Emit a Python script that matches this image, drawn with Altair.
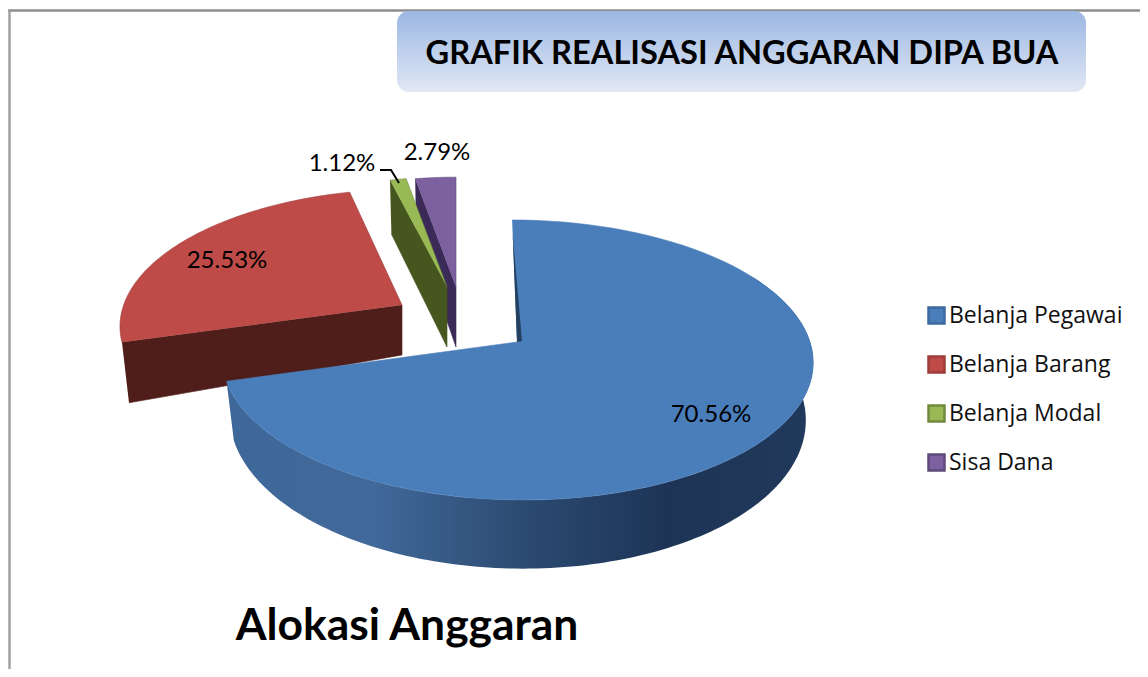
import math
import altair as alt
import pandas as pd

categories = ["Belanja Pegawai", "Belanja Barang", "Belanja Modal", "Sisa Dana"]
shares = [70.56, 25.53, 1.12, 2.79]
face_colors = ["#4a7ebb", "#be4b48", "#98b954", "#7d60a0"]
edge_colors = ["#3d6aa0", "#9d3d3a", "#71893f", "#5f4a7c"]
wall_colors = ["#2c4a70", "#4f1e1a", "#46561f", "#3b2a57"]

W, H = 1132, 661
xs = alt.Scale(domain=[8, 8 + W], range=[0, W], nice=False, zero=False)
ys = alt.Scale(domain=[8, 8 + H], range=[0, H], nice=False, zero=False)
XE = alt.X("x:Q", scale=xs, axis=None)
YE = alt.Y("y:Q", scale=ys, axis=None)

# 3-D pie view: slice angles come from the shares, drawn under a tilted-disc projection
A, B, K = 293.0, 137.7, 0.1285
# apex x, apex y, disc scale, skew, depth at apex, depth growth
view = [
    (517, 342, 1.00, 0.04, 56, 0.08),
    (402, 305, 0.95, -0.07, 50, 0.28),
    (447, 287, 0.90, 0.0, 60, 0.057),
    (456, 287, 0.90, 0.0, 60, 0.057),
]
edges = [0.0]
for s in shares:
    edges.append(edges[-1] + s * 360.0 / sum(shares))


def outer(i, deg):
    ax, ay, s, skew, _, _ = view[i]
    t = math.radians(deg)
    den = 1 + K * math.cos(t)
    dx = s * A * math.sin(t) / den
    dy = -s * B * math.cos(t) / den
    return (ax + dx + skew * dy, ay + dy)


def lower(i, p):
    ax, ay, _, _, d0, d1 = view[i]
    return (ax + (p[0] - ax) * 0.975, p[1] + d0 + d1 * (p[1] - ay))


def arc_pts(i, a, b, n=90):
    return [outer(i, a + (b - a) * j / n) for j in range(n + 1)]


def poly(points, fill, stroke=None, sw=0.6):
    df = pd.DataFrame(
        {"x": [p[0] for p in points], "y": [p[1] for p in points], "i": range(len(points))}
    )
    return (
        alt.Chart(df)
        .mark_line(fill=fill, stroke=stroke or "transparent", strokeWidth=sw, interpolate="linear")
        .encode(x=XE, y=YE, order=alt.Order("i:Q"))
    )


def face(i):
    a, b = edges[i], edges[i + 1]
    apex = (view[i][0], view[i][1])
    outline = face_colors[i] if i == 0 else edge_colors[i]
    return poly(arc_pts(i, a, b) + [apex], face_colors[i], outline)


def cut_wall(i, deg):
    apex = (view[i][0], view[i][1])
    p = outer(i, deg)
    return poly([p, apex, lower(i, apex), lower(i, p)], wall_colors[i], wall_colors[i])


# frame and title panel
frame_h = alt.Chart(pd.DataFrame({"x": [8], "x2": [1140], "y": [10.5]})).mark_rule(
    color="#8e8e8e", strokeWidth=2.5
).encode(x=XE, x2="x2:Q", y=YE)
frame_v = alt.Chart(pd.DataFrame({"x": [9.5], "y": [10], "y2": [669]})).mark_rule(
    color="#a0a0a0", strokeWidth=2.5
).encode(x=XE, y=YE, y2="y2:Q")
panel = alt.Chart(pd.DataFrame({"x": [397], "x2": [1086], "y": [11], "y2": [92]})).mark_rect(
    cornerRadius=12,
    fill=alt.LinearGradient(
        gradient="linear", x1=0, y1=0, x2=0, y2=1,
        stops=[
            alt.GradientStop(offset=0, color="#9bb7e2"),
            alt.GradientStop(offset=1, color="#e2e8f5"),
        ],
    ),
).encode(x=XE, x2="x2:Q", y=YE, y2="y2:Q")

# blue outer wall
top_arc = arc_pts(0, 60, edges[1], 160)
blue_wall = poly(
    top_arc + [lower(0, p) for p in reversed(top_arc)],
    alt.LinearGradient(
        gradient="linear", x1=0, y1=0, x2=1, y2=0,
        stops=[
            alt.GradientStop(offset=0, color="#3f689a"),
            alt.GradientStop(offset=0.25, color="#41699a"),
            alt.GradientStop(offset=0.5, color="#2c4b72"),
            alt.GradientStop(offset=0.75, color="#1d3456"),
            alt.GradientStop(offset=1, color="#21395c"),
        ],
    ),
)
apex0 = (view[0][0], view[0][1])
top0 = outer(0, 0)
inner_strip = poly(
    [
        (top0[0] + (apex0[0] - top0[0]) * 0.12, top0[1] + (apex0[1] - top0[1]) * 0.12),
        (apex0[0] + 5, apex0[1] - 1),
        (apex0[0], apex0[1]),
    ],
    "#24405f",
)

# labels
labels = pd.DataFrame(
    {
        "x": [711, 227, 342, 437],
        "y": [415, 261, 164, 153],
        "t": [f"{v:.2f}%" for v in shares],
    }
)
value_text = alt.Chart(labels).mark_text(font="Lato", fontSize=24, color="#000000").encode(
    x=XE, y=YE, text="t:N"
)
leader = alt.Chart(
    pd.DataFrame({"x": [380, 391, 399], "y": [170, 170, 183], "i": [0, 1, 2]})
).mark_line(color="#000000", strokeWidth=2).encode(x=XE, y=YE, order=alt.Order("i:Q"))
title_text = alt.Chart(pd.DataFrame({"x": [742], "y": [54], "t": ["GRAFIK REALISASI ANGGARAN DIPA BUA"]})).mark_text(
    font="Lato", fontSize=32.6, fontWeight="bold", color="#000000"
).encode(x=XE, y=YE, text="t:N")
name_text = alt.Chart(pd.DataFrame({"x": [407], "y": [627], "t": ["Alokasi Anggaran"]})).mark_text(
    font="Lato", fontSize=44.4, fontWeight="bold", color="#000000"
).encode(x=XE, y=YE, text="t:N")

# legend
legend_df = pd.DataFrame({"cat": categories, "share": shares})
leg = alt.Legend(
    title=None, orient="none", legendX=917, legendY=296, symbolType="square", symbolSize=256,
    symbolStrokeWidth=2.5, labelFont="Open Sans", labelFontSize=23, labelColor="#111111",
    labelOffset=1, rowPadding=22, symbolOpacity=1, labelLimit=260,
)
legend_layer = alt.Chart(legend_df).mark_point(filled=True, size=0).encode(
    x=alt.value(0),
    y=alt.value(0),
    fill=alt.Fill("cat:N", sort=categories, scale=alt.Scale(domain=categories, range=face_colors), legend=leg),
    stroke=alt.Stroke("cat:N", sort=categories, scale=alt.Scale(domain=categories, range=edge_colors), legend=leg),
)

chart = alt.layer(
    frame_h, frame_v, panel,
    cut_wall(1, edges[1]), face(1),
    cut_wall(3, edges[3]), face(3),
    cut_wall(2, edges[2]), face(2),
    blue_wall, face(0), inner_strip,
    leader, value_text, title_text, name_text, legend_layer,
).resolve_scale(fill="independent", stroke="independent").properties(
    width=W, height=H, padding=0, autosize=alt.AutoSizeParams(type="none")
).configure_view(stroke=None)

chart.save("out.html", embed_options={"renderer": "svg", "actions": False})
